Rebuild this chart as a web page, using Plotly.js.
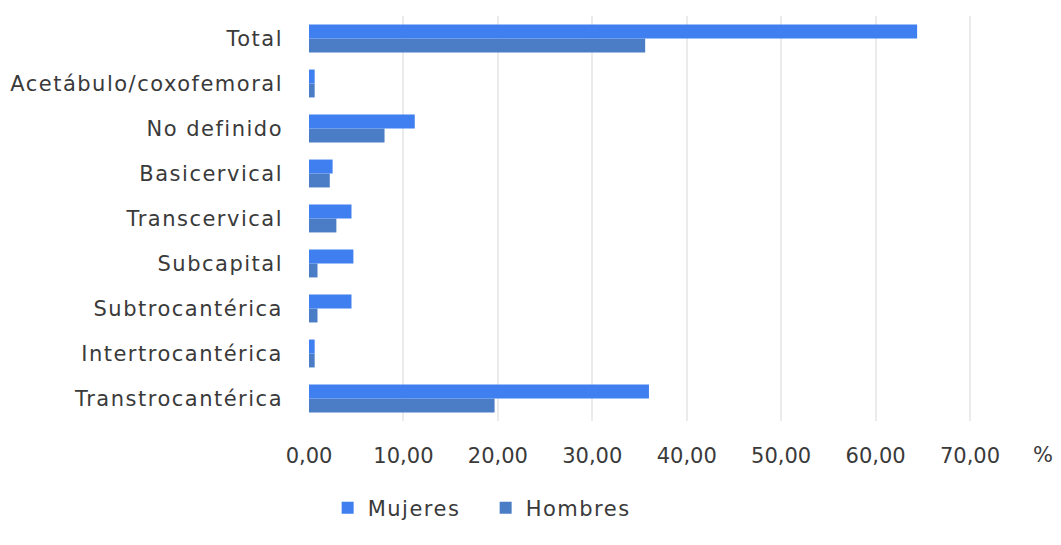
<!DOCTYPE html>
<html>
<head>
<meta charset="utf-8">
<script src="https://cdn.plot.ly/plotly-3.0.1.min.js"></script>
<style>
html,body{margin:0;padding:0;background:#fff;}
#chart{width:1061px;height:545px;}
#chart .ytick text{letter-spacing:1.5px;}
#chart .legendtext{letter-spacing:1.5px;}
</style>
</head>
<body>
<div id="chart"></div>
<script>
// Categories from bottom to top
var categories = ["Transtrocantérica","Intertrocantérica","Subtrocantérica","Subcapital","Transcervical","Basicervical","No definido","Acetábulo/coxofemoral","Total"];
var mujeres = [36.0, 0.6, 4.5, 4.7, 4.5, 2.5, 11.2, 0.6, 64.4];
var hombres = [19.65, 0.6, 0.9, 0.9, 2.9, 2.2, 8.0, 0.6, 35.6];
var xTicks = [0,10,20,30,40,50,60,70];
var xTickText = ["0,00","10,00","20,00","30,00","40,00","50,00","60,00","70,00"];

var font = {family: "DejaVu Sans, Verdana, sans-serif", size: 21, color: "#3a3a3a"};

var traces = [
  {type: "bar", orientation: "h", name: "Hombres", y: categories, x: hombres,
   marker: {color: "#4a7dc6"}, legendrank: 2, hoverinfo: "x+name"},
  {type: "bar", orientation: "h", name: "Mujeres", y: categories, x: mujeres,
   marker: {color: "#3f7ff0"}, legendrank: 1, hoverinfo: "x+name"}
];

var layout = {
  width: 1061, height: 545,
  margin: {l: 309, r: 6, t: 16, b: 124},
  paper_bgcolor: "#fff", plot_bgcolor: "#fff",
  font: font,
  barmode: "group", bargap: 0.38, bargroupgap: 0,
  showlegend: true,
  legend: {orientation: "h", x: 0.025, xanchor: "left", y: -0.215, yanchor: "middle",
           font: font, entrywidth: 113, entrywidthmode: "pixels", tracegroupgap: 0},
  xaxis: {range: [0, 79], tickvals: xTicks, ticktext: xTickText, showgrid: true,
          gridcolor: "#ebebeb", gridwidth: 2, zeroline: false, showline: false,
          ticks: "", ticklabelstandoff: 20, fixedrange: true},
  yaxis: {type: "category", categoryorder: "array", categoryarray: categories,
          showgrid: false, zeroline: false, showline: false, ticks: "",
          ticklabelstandoff: 25, range: [-0.5, 8.5], fixedrange: true},
  annotations: [{text: "%", xref: "paper", yref: "paper", x: (1043-309)/746, y: -0.085,
                 xanchor: "center", yanchor: "middle", showarrow: false, font: font}]
};

Plotly.newPlot("chart", traces, layout, {displayModeBar: false, staticPlot: true});
</script>
</body>
</html>
